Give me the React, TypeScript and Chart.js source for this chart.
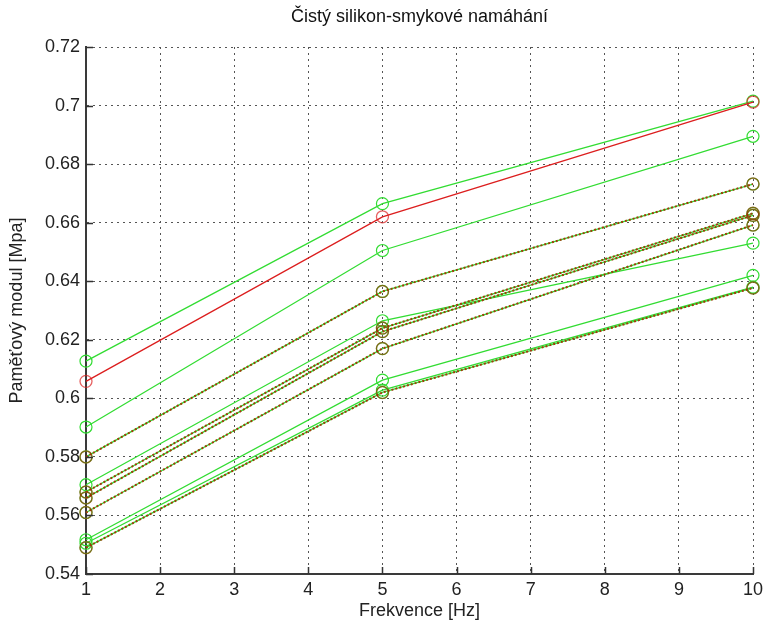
import React, { useEffect, useRef } from 'react';
import { Chart, registerables } from 'chart.js';

Chart.register(...registerables);

// ---- data ----
const frequencyHz = [1, 5, 10];
const xTickValues = [1, 2, 3, 4, 5, 6, 7, 8, 9, 10];
const yTickValues = [0.54, 0.56, 0.58, 0.6, 0.62, 0.64, 0.66, 0.68, 0.7, 0.72];

const titleText = 'Čistý silikon-smykové namáhání';
const xLabel = 'Frekvence [Hz]';
const yLabel = 'Paměťový modul [Mpa]';

// green measurements
const green1 = [0.6127, 0.6665, 0.7015];
const green2 = [0.5902, 0.6505, 0.6895];
const green3 = [0.58, 0.6365, 0.6732];
const green4 = [0.5705, 0.6265, 0.653];
const green5 = [0.568, 0.624, 0.6632];
const green6 = [0.566, 0.6228, 0.6625];
const green7 = [0.561, 0.617, 0.6592];
const green8 = [0.5517, 0.6062, 0.642];
const green9 = [0.5505, 0.6028, 0.638];
const green10 = [0.549, 0.602, 0.6377];

// red measurements
const red1 = [0.6058, 0.662, 0.7012];
const red2 = [0.58, 0.6365, 0.6732];
const red3 = [0.568, 0.624, 0.6632];
const red4 = [0.566, 0.6228, 0.6625];
const red5 = [0.561, 0.617, 0.6592];
const red6 = [0.549, 0.602, 0.6377];

const greenSeries = [green1, green2, green3, green4, green5, green6, green7, green8, green9, green10];
const redSeries = [red1, red2, red3, red4, red5, red6];
// red series that coincide with a green one (drawn dashed over it)
const redOverlapping = [false, true, true, true, true, true];

const FONT = "'Liberation Sans', Arial, Helvetica, sans-serif";
const GREEN = 'rgb(50,220,50)';
const RED = 'rgb(220,30,30)';

const toPoints = (vals: number[]) => vals.map((v, i) => ({ x: frequencyHz[i], y: v }));

const decorations = {
  id: 'decorations',
  afterDatasetsDraw(chart: any) {
    const { ctx, chartArea, scales } = chart;
    ctx.save();
    ctx.strokeStyle = '#333';
    ctx.lineWidth = 1.5;
    ctx.beginPath();
    yTickValues.forEach((v) => {
      const y = Math.round(scales.y.getPixelForValue(v)) + 0.5;
      ctx.moveTo(chartArea.left, y);
      ctx.lineTo(chartArea.left + 7, y);
    });
    xTickValues.forEach((v) => {
      const x = Math.round(scales.x.getPixelForValue(v)) + 0.5;
      ctx.moveTo(x, chartArea.bottom);
      ctx.lineTo(x, chartArea.bottom - 7);
    });
    ctx.stroke();
    // title centred over the plot area
    ctx.fillStyle = '#111';
    ctx.font = `normal 18px ${FONT}`;
    ctx.textAlign = 'center';
    ctx.textBaseline = 'middle';
    ctx.fillText(titleText, (chartArea.left + chartArea.right) / 2, 17);
    ctx.restore();
  },
};

export default function App() {
  const ref = useRef<HTMLCanvasElement | null>(null);

  useEffect(() => {
    if (!ref.current) return;
    const datasets: any[] = [];
    // Chart.js draws the first dataset on top, so the red ones come first
    redSeries.forEach((s, i) => {
      const ov = redOverlapping[i];
      datasets.push({
        label: 'red ' + (i + 1),
        data: toPoints(s),
        borderColor: ov ? 'rgb(160,60,10)' : RED,
        borderDash: ov ? [2, 2] : [],
        backgroundColor: 'transparent',
        borderWidth: ov ? 2 : 1.3,
        pointRadius: 6,
        pointBorderWidth: ov ? 1.5 : 1.3,
        pointBorderColor: ov ? 'rgba(160,40,0,0.6)' : 'rgba(220,30,30,0.7)',
        pointBackgroundColor: 'transparent',
        tension: 0,
        clip: false,
      });
    });
    greenSeries.forEach((s, i) => {
      datasets.push({
        label: 'green ' + (i + 1),
        data: toPoints(s),
        borderColor: GREEN,
        backgroundColor: 'transparent',
        borderWidth: 1.3,
        pointRadius: 6,
        pointBorderWidth: 1.2,
        pointBorderColor: GREEN,
        pointBackgroundColor: 'transparent',
        tension: 0,
        clip: false,
      });
    });

    const tickFont = { family: FONT, size: 18 };
    const chart = new Chart(ref.current, {
      type: 'line',
      data: { datasets },
      plugins: [decorations],
      options: {
        animation: false,
        responsive: false,
        devicePixelRatio: 1,
        layout: { padding: { top: 47, left: 0, right: 10, bottom: 0 } },
        plugins: {
          legend: { display: false },
          tooltip: { enabled: false },
          title: { display: false },
        },
        scales: {
          x: {
            type: 'linear',
            min: 1,
            max: 10,
            ticks: {
              stepSize: 1,
              padding: 5,
              color: '#222',
              font: tickFont,
              callback: (v: any) => String(v),
            },
            afterBuildTicks: (s: any) => {
              s.ticks = xTickValues.map((v) => ({ value: v }));
            },
            grid: { color: '#555', lineWidth: 1, drawTicks: false },
            border: { display: true, color: '#3a3a3a', width: 2, dash: [2, 4] },
            title: {
              display: true,
              text: xLabel,
              color: '#222',
              font: tickFont,
              padding: { top: 0, bottom: 6 },
            },
            afterFit: (s: any) => {
              s.height = 54;
              s.paddingLeft = 0;
              s.paddingRight = 0;
            },
          },
          y: {
            type: 'linear',
            min: 0.54,
            max: 0.72,
            ticks: {
              padding: 6,
              color: '#222',
              font: tickFont,
              callback: (v: any) => String(Number(Number(v).toFixed(2))),
            },
            afterBuildTicks: (s: any) => {
              s.ticks = yTickValues.map((v) => ({ value: v }));
            },
            grid: { color: '#555', lineWidth: 1, drawTicks: false },
            border: { display: true, color: '#3a3a3a', width: 2, dash: [2, 4] },
            title: {
              display: true,
              text: yLabel,
              color: '#222',
              font: tickFont,
              padding: { top: 6, bottom: 0 },
            },
            afterFit: (s: any) => {
              s.width = 86;
              s.paddingTop = 0;
              s.paddingBottom = 0;
            },
          },
        },
      } as any,
    });
    return () => chart.destroy();
  }, []);

  return (
    <div style={{ position: 'absolute', left: 0, top: 0, width: 763, height: 628, background: '#fff' }}>
      <canvas ref={ref} width={763} height={628} style={{ display: 'block' }} />
    </div>
  );
}
